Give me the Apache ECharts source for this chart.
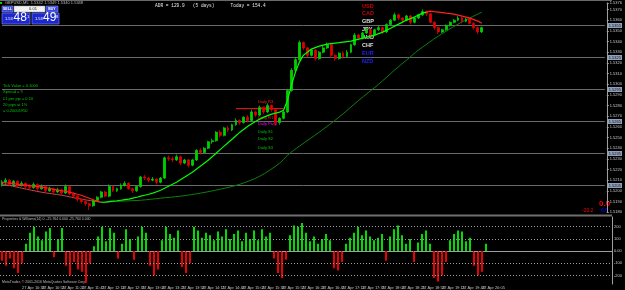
<!DOCTYPE html>
<html><head><meta charset="utf-8">
<script src="https://cdn.jsdelivr.net/npm/echarts@6/dist/echarts.min.js"></script>
<style>html,body{margin:0;padding:0;background:#000;}#c{width:625px;height:290px;}</style>
</head><body><div id="c"></div>
<script>
// OHLC rows: [open, close, low, high]
const candles = [
[1.5206,1.5208,1.5204,1.5210],[1.5208,1.5210,1.5206,1.5212],[1.5210,1.5206,1.5205,1.5211],[1.5206,1.5209,1.5204,1.5210],
[1.5209,1.5205,1.5203,1.5210],[1.5205,1.5207,1.5204,1.5209],[1.5207,1.5204,1.5202,1.5208],[1.5204,1.5203,1.5201,1.5206],
[1.5203,1.5206,1.5202,1.5208],[1.5206,1.5202,1.5200,1.5207],[1.5202,1.5204,1.5201,1.5206],[1.5204,1.5200,1.5198,1.5205],
[1.5200,1.5202,1.5199,1.5204],[1.5202,1.5199,1.5197,1.5203],[1.5199,1.5201,1.5198,1.5203],[1.5201,1.5198,1.5196,1.5202],
[1.5198,1.5204,1.5197,1.5206],[1.5204,1.5197,1.5196,1.5205],[1.5197,1.5195,1.5193,1.5198],[1.5195,1.5192,1.5190,1.5196],
[1.5192,1.5190,1.5188,1.5193],[1.5190,1.5188,1.5186,1.5191],[1.5188,1.5186,1.5182,1.5189],[1.5186,1.5191,1.5185,1.5192],
[1.5191,1.5194,1.5190,1.5195],[1.5194,1.5199,1.5193,1.5200],[1.5199,1.5195,1.5194,1.5200],[1.5195,1.5204,1.5194,1.5206],
[1.5204,1.5200,1.5199,1.5205],[1.5200,1.5202,1.5199,1.5203],[1.5202,1.5205,1.5201,1.5207],[1.5205,1.5207,1.5204,1.5209],
[1.5207,1.5202,1.5201,1.5208],[1.5202,1.5200,1.5198,1.5203],[1.5200,1.5204,1.5199,1.5205],[1.5204,1.5213,1.5203,1.5214],
[1.5213,1.5212,1.5210,1.5215],[1.5212,1.5210,1.5208,1.5213],[1.5210,1.5211,1.5209,1.5213],[1.5211,1.5208,1.5206,1.5212],
[1.5208,1.5212,1.5207,1.5213],[1.5212,1.5231,1.5211,1.5232],[1.5231,1.5230,1.5228,1.5233],[1.5230,1.5229,1.5227,1.5232],
[1.5229,1.5232,1.5228,1.5234],[1.5232,1.5226,1.5224,1.5233],[1.5226,1.5229,1.5225,1.5230],[1.5229,1.5224,1.5222,1.5230],
[1.5224,1.5229,1.5223,1.5230],[1.5229,1.5238,1.5228,1.5239],[1.5238,1.5236,1.5234,1.5240],[1.5236,1.5240,1.5235,1.5241],
[1.5240,1.5246,1.5239,1.5247],[1.5246,1.5247,1.5244,1.5249],[1.5247,1.5255,1.5246,1.5256],[1.5255,1.5252,1.5250,1.5257],
[1.5252,1.5259,1.5251,1.5260],[1.5259,1.5257,1.5255,1.5261],[1.5257,1.5262,1.5256,1.5263],[1.5262,1.5266,1.5261,1.5268],
[1.5266,1.5264,1.5262,1.5267],[1.5264,1.5269,1.5263,1.5270],[1.5269,1.5266,1.5264,1.5271],[1.5266,1.5274,1.5265,1.5276],
[1.5274,1.5271,1.5269,1.5275],[1.5271,1.5278,1.5270,1.5280],[1.5278,1.5274,1.5272,1.5279],[1.5274,1.5280,1.5273,1.5282],
[1.5280,1.5276,1.5274,1.5281],[1.5276,1.5264,1.5261,1.5277],[1.5264,1.5268,1.5262,1.5269],[1.5268,1.5274,1.5267,1.5275],
[1.5274,1.5294,1.5273,1.5295],[1.5294,1.5313,1.5293,1.5315],[1.5313,1.5323,1.5311,1.5325],[1.5323,1.5339,1.5322,1.5341],
[1.5339,1.5334,1.5332,1.5340],[1.5334,1.5327,1.5325,1.5335],[1.5327,1.5332,1.5326,1.5333],[1.5332,1.5324,1.5322,1.5333],
[1.5324,1.5330,1.5323,1.5331],[1.5330,1.5334,1.5329,1.5336],[1.5334,1.5337,1.5333,1.5339],[1.5337,1.5327,1.5325,1.5338],
[1.5327,1.5324,1.5322,1.5328],[1.5324,1.5329,1.5323,1.5330],[1.5329,1.5326,1.5324,1.5331],[1.5326,1.5330,1.5325,1.5332],
[1.5330,1.5337,1.5329,1.5338],[1.5337,1.5346,1.5336,1.5348],[1.5346,1.5343,1.5341,1.5347],[1.5343,1.5348,1.5342,1.5349],
[1.5348,1.5351,1.5347,1.5353],[1.5351,1.5346,1.5344,1.5352],[1.5346,1.5351,1.5345,1.5352],[1.5351,1.5353,1.5350,1.5355],
[1.5353,1.5349,1.5347,1.5354],[1.5349,1.5356,1.5348,1.5357],[1.5356,1.5360,1.5355,1.5361],[1.5360,1.5365,1.5359,1.5367],
[1.5365,1.5362,1.5360,1.5366],[1.5362,1.5360,1.5358,1.5363],[1.5360,1.5364,1.5359,1.5365],[1.5364,1.5358,1.5356,1.5365],
[1.5358,1.5362,1.5357,1.5363],[1.5362,1.5365,1.5361,1.5366],[1.5365,1.5368,1.5364,1.5370],[1.5368,1.5366,1.5364,1.5369],
[1.5366,1.5358,1.5357,1.5367],[1.5358,1.5353,1.5351,1.5359],[1.5353,1.5349,1.5347,1.5354],[1.5349,1.5351,1.5348,1.5352],
[1.5351,1.5355,1.5350,1.5356],[1.5355,1.5358,1.5354,1.5359],[1.5358,1.5360,1.5357,1.5361],[1.5360,1.5362,1.5359,1.5364],
[1.5362,1.5359,1.5357,1.5363],[1.5359,1.5361,1.5358,1.5362],[1.5361,1.5357,1.5356,1.5362],[1.5357,1.5353,1.5351,1.5358],
[1.5353,1.5349,1.5347,1.5354],[1.5349,1.5353,1.5348,1.5354]
];
const maFast = [1.52081,1.52076,1.52072,1.52067,1.52062,1.52058,1.52053,1.52048,1.52043,1.52039,
1.52034,1.52029,1.52025,1.52015,1.52006,1.52001,1.51997,1.51987,1.51978,1.51968,
1.51959,1.51945,1.51931,1.51917,1.51903,1.51893,1.51893,1.51898,1.51903,1.51907,
1.51912,1.51917,1.51922,1.51931,1.51940,1.51950,1.51959,1.51968,1.51978,1.51992,
1.52006,1.52025,1.52043,1.52062,1.52081,1.52104,1.52128,1.52151,1.52175,1.52203,
1.52231,1.52259,1.52287,1.52320,1.52353,1.52386,1.52419,1.52451,1.52484,1.52517,
1.52550,1.52578,1.52606,1.52630,1.52653,1.52672,1.52691,1.52705,1.52719,1.52728,
1.52738,1.52756,1.52850,1.52991,1.53113,1.53207,1.53272,1.53300,1.53329,1.53343,
1.53357,1.53366,1.53375,1.53380,1.53385,1.53389,1.53394,1.53399,1.53404,1.53413,
1.53422,1.53432,1.53441,1.53450,1.53460,1.53474,1.53488,1.53507,1.53525,1.53544,
1.53563,1.53582,1.53601,1.53615,1.53629,1.53647,1.53666,1.53676,1.53685,1.53680,
1.53676,1.53671,1.53666,1.53662,1.53657,1.53647,1.53638,1.53629,1.53619,1.53605,
1.53591,1.53572];
const maFastRiseFrom = 25, maFastRiseTo = 107;
const maSlow = [[0,1.52066],[5,1.52025],[10,1.51987],[15,1.51959],[20,1.51922],[25,1.51893],[30,1.51903],
[35,1.51912],[40,1.51931],[45,1.51950],[50,1.51978],[55,1.52015],[60,1.52062],[65,1.52137],[70,1.52259],
[72,1.52334],[75,1.52419],[80,1.52550],[85,1.52691],[90,1.52850],[95,1.53000],[99,1.53132],[102,1.53225],
[105,1.53319],[110,1.53450],[115,1.53563],[121,1.53676]];
const maSlowSplit = 25;
const histogram = [-80,-120,-60,-140,-180,-100, 60,150,200,120,90,160,190, -50,100,190,
-120,-200,-90,-150,-170,-260, -100,40, 120,200,80,190,150, -60,60, 180,100,-70,120,200,150,
-120,-200,-150, 90,200,140,110,170, -130,-180,-100, 200,170,110,150,130,90,
160,120,180,100,140,170,80, 150,100,170,90,180,120, 150,-60, -180,-220,-70,
130,210,200,230,150,80,120,60,100,140, 90,-140,-160,-90, 60,110,150,200,130,170,
120,90,110,140, -80, 120,180,210,130,60,100, -90,70, 140,170,60, -220,-250,-200,-90,
90,140,170,160,80,110, -120,-200,-170, 60];
const timeLabels = ['27 Apr 10:05','27 Apr 10:30','27 Apr 10:55','27 Apr 11:20','27 Apr 11:45','27 Apr 12:10',
'27 Apr 12:35','27 Apr 13:00','27 Apr 13:25','27 Apr 13:50','27 Apr 14:15','27 Apr 14:40','27 Apr 15:05',
'27 Apr 15:30','27 Apr 15:55','27 Apr 16:20','27 Apr 16:45','27 Apr 17:10','27 Apr 17:35','27 Apr 18:00',
'27 Apr 18:25','27 Apr 18:50','27 Apr 19:15','27 Apr 19:40','27 Apr 20:05'];
const priceMin = 1.518, priceMax = 1.53761, priceStep = 0.001;
const roundLevels = [1.5355,1.5325,1.5295,1.5265,1.5235,1.5205];
const oscMin = -270, oscMax = 280;
const oscLevels = [200,100,0,-100,-200];
const oscLevelLabels = ['200','100','0.00','-100','-200'];
const pivotR2 = [[59,1.5277],[71,1.5277]];
const currencies = ['USD','CAD','GBP','JPY','AUD','CHF','EUR','NZD'];
const currencyColors = ['#d00000','#d00000','#e0e0e0','#e0e0e0','#e0e0e0','#e0e0e0','#2020ff','#2020ff'];
const infoLines = ['Tick Value = 0.1000','Spread = 9','£1 per pip = 0.10','20 pips at 1%','= 0.20001950'];
const pivotNames = ['Daily R3','Daily R2','Daily R1','Daily Pivot','Daily S1','Daily S2','Daily S3'];
const pivotColors = ['#ff2020','#ff2020','#ff2020','#ff00ff','#00c800','#00c800','#00c800'];

const N = 153;
const cats = Array.from({length: N}, (_, i) => String(i));
const F = 'Liberation Sans';

const fastRise = maFast.map((v, i) => (i >= maFastRiseFrom && i <= maFastRiseTo) ? v : null);
const fastFall = maFast.map((v, i) => (i <= maFastRiseFrom || i >= maFastRiseTo) ? v : null);
const slowA = maSlow.filter(p => p[0] <= maSlowSplit);
const slowB = maSlow.filter(p => p[0] >= maSlowSplit);

const g = [];
g.push({type:'line', shape:{x1:0,y1:0.5,x2:612,y2:0.5}, style:{stroke:'#6a6a6a',lineWidth:1}});
g.push({type:'rect', shape:{x:0,y:2,width:2,height:2}, style:{fill:'#00d000'}});
g.push({type:'text', x:5, y:3.3, style:{text:'GBPUSD,M5  1.5342 1.5349 1.5340 1.5348', fill:'#bdbdbd', font:'4px '+F, verticalAlign:'middle'}});
g.push({type:'rect', shape:{x:2,y:6,width:11,height:6}, style:{fill:'#3a48d8',stroke:'#8d97ff',lineWidth:0.5}});
g.push({type:'text', x:7.5, y:9, style:{text:'SELL', fill:'#fff', font:'bold 3.5px '+F, align:'center', verticalAlign:'middle'}});
g.push({type:'rect', shape:{x:14,y:6,width:31,height:6}, style:{fill:'#f2f2f2',stroke:'#9a9a9a',lineWidth:0.5}});
g.push({type:'text', x:33, y:9, style:{text:'0.01', fill:'#202020', font:'4px '+F, align:'center', verticalAlign:'middle'}});
g.push({type:'rect', shape:{x:46,y:6,width:12,height:6}, style:{fill:'#3a48d8',stroke:'#8d97ff',lineWidth:0.5}});
g.push({type:'text', x:52, y:9, style:{text:'BUY', fill:'#fff', font:'bold 3.5px '+F, align:'center', verticalAlign:'middle'}});
g.push({type:'rect', shape:{x:2,y:13,width:28,height:11}, style:{fill:'#1d28cc',stroke:'#7b86ff',lineWidth:0.6}});
g.push({type:'text', x:5, y:21, style:{text:'1.53', fill:'#fff', font:'4px '+F, verticalAlign:'bottom'}});
g.push({type:'text', x:13.5, y:23.5, style:{text:'48', fill:'#fff', font:'12px '+F, verticalAlign:'bottom'}});
g.push({type:'text', x:27, y:17, style:{text:'1', fill:'#fff', font:'4px '+F, verticalAlign:'middle'}});
g.push({type:'rect', shape:{x:32,y:13,width:27,height:11}, style:{fill:'#1d28cc',stroke:'#7b86ff',lineWidth:0.6}});
g.push({type:'text', x:35, y:21, style:{text:'1.53', fill:'#fff', font:'4px '+F, verticalAlign:'bottom'}});
g.push({type:'text', x:43, y:23.5, style:{text:'49', fill:'#fff', font:'12px '+F, verticalAlign:'bottom'}});
g.push({type:'text', x:56, y:17, style:{text:'8', fill:'#fff', font:'4px '+F, verticalAlign:'middle'}});
g.push({type:'text', x:155, y:5.7, style:{text:'ADR = 129.9   (5 days)      Today = 154.4', fill:'#e8e8e8', font:'4.5px Liberation Mono', verticalAlign:'middle'}});
currencies.forEach((c, i) => g.push({type:'text', x:362, y:6 + i*7.9, style:{text:c, fill:currencyColors[i], font:'bold 5.5px '+F, verticalAlign:'middle'}}));
infoLines.forEach((t, i) => g.push({type:'text', x:3, y:86 + i*6.3, style:{text:t, fill:'#00c800', font:'4px '+F, verticalAlign:'middle'}}));
const pivotY = [102,108,118,124,132,139,148];
pivotNames.forEach((t, i) => g.push({type:'text', x:258, y:pivotY[i], style:{text:t, fill:pivotColors[i], font:'4px '+F, verticalAlign:'middle'}}));
g.push({type:'text', x:599, y:204, style:{text:'0.0', fill:'#ff0000', font:'bold 8px '+F, verticalAlign:'middle'}});
g.push({type:'text', x:582, y:210.5, style:{text:'-20.2', fill:'#ff0000', font:'5px '+F, verticalAlign:'middle'}});
g.push({type:'text', x:601, y:210.5, style:{text:'0.0', fill:'#0000ff', font:'bold 5px '+F, verticalAlign:'middle'}});
g.push({type:'rect', shape:{x:0,y:214.5,width:612,height:2}, style:{fill:'#707070'}});
g.push({type:'text', x:2, y:218.7, style:{text:'Properties & Williams(14) 0. -25.764 0.000 -25.764 0.000', fill:'#bdbdbd', font:'3.5px '+F, verticalAlign:'middle'}});
g.push({type:'text', x:2, y:281.7, style:{text:'MetaTrader, © 2001-2016 MetaQuotes Software Corp.', fill:'#bdbdbd', font:'3.5px '+F, verticalAlign:'middle'}});

const levelSeries = roundLevels.map(v => ({
  type:'line', xAxisIndex:0, yAxisIndex:0, data:[[0, v], [N - 1, v]], symbol:'none', silent:true, z:1,
  lineStyle:{color:'#6a6a6a', width:1},
  endLabel:{show:true, distance:3, fontSize:4, fontFamily:F, color:'#101010', backgroundColor:'#8fa0b8',
    padding:[0.5,1], formatter:() => v.toFixed(4)}
}));

const chart = echarts.init(document.getElementById('c'), null, {renderer:'canvas'});
chart.setOption({
  backgroundColor:'#000',
  animation:false,
  grid:[{left:0,right:13,top:3,height:209.17},{left:0,right:13,top:217,height:67}],
  xAxis:[
    {type:'category', data:cats, gridIndex:0, axisLine:{show:false}, axisTick:{show:false}, axisLabel:{show:false}},
    {type:'category', data:cats, gridIndex:1, axisLine:{lineStyle:{color:'#a0a0a0'}},
     axisTick:{interval:4, length:2, lineStyle:{color:'#a0a0a0'}},
     axisLabel:{interval:4, fontSize:4, fontFamily:F, color:'#c0c0c0', margin:1.5, align:'left',
       formatter:(v, i) => timeLabels[i/5] || ''}}
  ],
  yAxis:[
    {type:'value', gridIndex:0, position:'right', min:priceMin, max:priceMax, interval:priceStep, splitLine:{show:false},
     axisLine:{show:true, lineStyle:{color:'#a0a0a0'}}, axisTick:{show:true, length:2, lineStyle:{color:'#a0a0a0'}},
     axisLabel:{fontSize:4, fontFamily:F, color:'#c8c8c8', margin:3, formatter:v => v.toFixed(4)}},
    {type:'value', gridIndex:1, position:'right', min:oscMin, max:oscMax, splitLine:{show:false},
     axisLine:{show:true, lineStyle:{color:'#a0a0a0'}}, axisTick:{show:false}, axisLabel:{show:false}}
  ],
  series:[
    ...levelSeries,
    {type:'candlestick', xAxisIndex:0, yAxisIndex:0, data:candles, barWidth:2.4, z:4,
     itemStyle:{color:'#00d000', color0:'#e00000', borderColor:'#00d000', borderColor0:'#e00000', borderWidth:0.8}},
    {type:'line', xAxisIndex:0, yAxisIndex:0, data:fastFall, symbol:'none', connectNulls:false, lineStyle:{width:1.2, color:'#ff2020'}, z:5},
    {type:'line', xAxisIndex:0, yAxisIndex:0, data:fastRise, symbol:'none', connectNulls:false, lineStyle:{width:1.2, color:'#00ff00'}, z:5},
    {type:'line', xAxisIndex:0, yAxisIndex:0, data:slowA, symbol:'none', smooth:0.3, lineStyle:{width:1, color:'#c84848'}, z:3},
    {type:'line', xAxisIndex:0, yAxisIndex:0, data:slowB, symbol:'none', smooth:0.3, lineStyle:{width:1, color:'#0e7f0e'}, z:3},
    {type:'line', xAxisIndex:0, yAxisIndex:0, data:pivotR2, symbol:'none', lineStyle:{width:1, color:'#ff2020'}, z:3},
    {type:'bar', xAxisIndex:1, yAxisIndex:1, data:histogram, barWidth:2,
     itemStyle:{color:p => p.value >= 0 ? '#00dd00' : '#ee0000'},
     markLine:{symbol:'none', silent:true, animation:false,
       lineStyle:{color:'#9a9a9a', width:1, type:[1,2]},
       label:{position:'end', distance:2, fontSize:4, fontFamily:F, color:'#c8c8c8', formatter:p => oscLevelLabels[oscLevels.indexOf(p.value)]},
       data: oscLevels.map(v => ({yAxis:v}))}}
  ],
  graphic: g
});
</script></body></html>
